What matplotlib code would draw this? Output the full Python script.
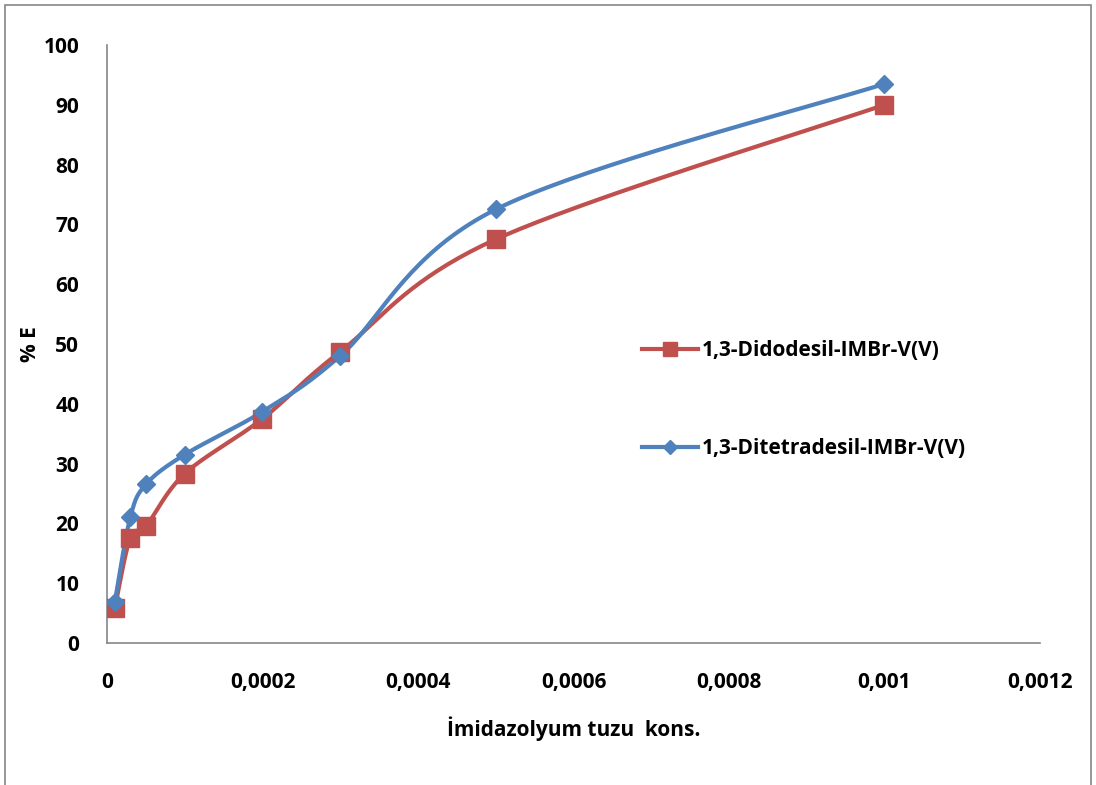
import numpy as np
import matplotlib
matplotlib.use("Agg")
import matplotlib.pyplot as plt
from matplotlib.patches import Rectangle
from matplotlib.ticker import FuncFormatter

# concentration of imidazolium salt
conc = [0.00001, 0.00003, 0.00005, 0.0001, 0.0002, 0.0003, 0.0005, 0.001]
didodesil = [5.8, 17.6, 19.5, 28.3, 37.5, 48.7, 67.5, 90.0]
ditetradesil = [6.8, 21.0, 26.5, 31.5, 38.7, 48.0, 72.5, 93.5]

x_ticks = [0, 0.0002, 0.0004, 0.0006, 0.0008, 0.001, 0.0012]
y_ticks = [0, 10, 20, 30, 40, 50, 60, 70, 80, 90, 100]

RED = "#C0504D"
BLUE = "#4F81BD"
FONT = ["Open Sans", "DejaVu Sans"]
FS = 15


def excel_smooth(xs, ys, n=40):
    # Excel-like smoothed line: Catmull-Rom bezier through the points
    p = np.column_stack([xs, ys]).astype(float)
    p = np.vstack([p[0], p, p[-1]])
    out = []
    t = np.linspace(0, 1, n)[:, None]
    for i in range(1, len(p) - 2):
        p0, p1, p2, p3 = p[i - 1], p[i], p[i + 1], p[i + 2]
        c1 = p1 + (p2 - p0) / 6
        c2 = p2 - (p3 - p1) / 6
        seg = ((1 - t) ** 3) * p1 + 3 * ((1 - t) ** 2) * t * c1 \
            + 3 * (1 - t) * t ** 2 * c2 + t ** 3 * p2
        out.append(seg)
    seg = np.vstack(out)
    return seg[:, 0], seg[:, 1]


plt.rcParams["font.family"] = FONT
plt.rcParams["font.weight"] = "bold"

fig = plt.figure(figsize=(10.96, 7.85), dpi=100)
ax = fig.add_axes([0.0976, 0.181, 0.8513, 0.7617])

# outer chart border (bottom edge cut off like the reference)
fig.patches.append(Rectangle((0.005, -0.05), 0.99, 1.044, transform=fig.transFigure,
                             fill=False, edgecolor="#868686", linewidth=1.2))

for ys, color, marker, ms, label in [
    (didodesil, RED, "s", 13, "1,3-Didodesil-IMBr-V(V)"),
    (ditetradesil, BLUE, "D", 9, "1,3-Ditetradesil-IMBr-V(V)"),
]:
    sx, sy = excel_smooth(conc, ys)
    ax.plot(sx, sy, color=color, linewidth=3, solid_capstyle="round", zorder=2)
    ax.plot(conc, ys, linestyle="none", marker=marker, markersize=ms,
            color=color, zorder=3)
    ax.plot([], [], color=color, linewidth=3, marker=marker,
            markersize=ms * 0.75, label=label)

ax.set_xlim(0, 0.0012)
ax.set_ylim(0, 100)
ax.set_xticks(x_ticks)
ax.set_yticks(y_ticks)
ax.xaxis.set_major_formatter(FuncFormatter(lambda v, pos: f"{v:g}".replace(".", ",")))
ax.tick_params(axis="both", length=0, labelsize=FS)
ax.tick_params(axis="y", pad=20)
ax.tick_params(axis="x", pad=21)

for side in ["top", "right"]:
    ax.spines[side].set_visible(False)
for side in ["left", "bottom"]:
    ax.spines[side].set_color("#868686")
    ax.spines[side].set_linewidth(1.2)

ax.set_xlabel("İmidazolyum tuzu  kons.", fontsize=FS, fontweight="bold", labelpad=17)
ax.set_ylabel("% E", fontsize=FS, fontweight="bold", labelpad=2)

ax.legend(loc="upper left", bbox_to_anchor=(0.553, 0.538), frameon=False,
          labelspacing=3.7, handlelength=2.7, handletextpad=0.2,
          prop={"weight": "bold", "size": FS, "family": FONT})

fig.savefig("out.png", dpi=100)
